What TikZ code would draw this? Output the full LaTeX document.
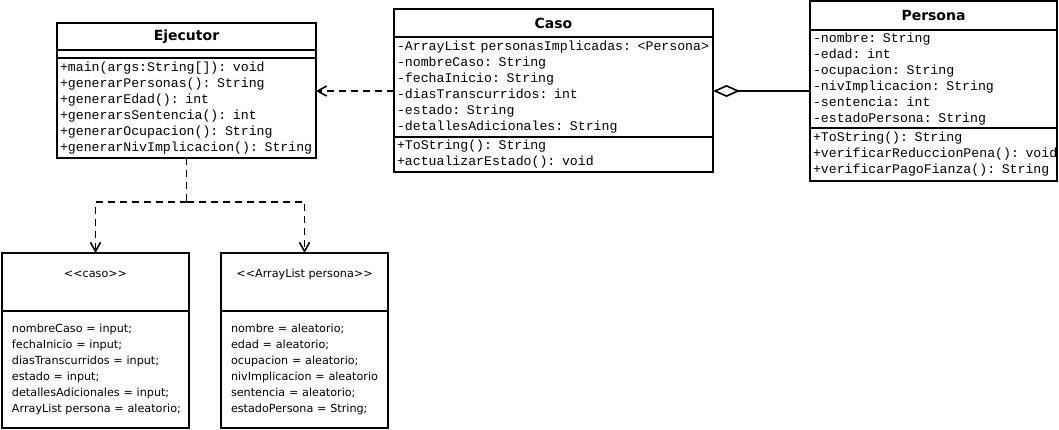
\documentclass[tikz,border=0pt]{standalone}
\usepackage{fontspec}
\setmainfont{DejaVu Sans}
\setsansfont{DejaVu Sans}
\setmonofont{Liberation Mono}
\usetikzlibrary{arrows.meta,positioning}

\begin{document}
\begin{tikzpicture}[x=1pt, y=-1pt, line width=1.6pt, node distance=0pt,
caja/.style = {draw, rectangle, outer sep=0pt, inner sep=0pt, anchor=north west},
titulo/.style = {caja, font=\sffamily\bfseries\fontsize{14}{16}\selectfont},
miembros/.style = {caja, align=left, inner xsep=3pt, font=\ttfamily\fontsize{13.2}{16}\selectfont},
notas/.style = {caja, align=left, inner xsep=10pt, font=\sffamily\fontsize{11.2}{16}\selectfont},
estereo/.style = {notas, align=center, minimum height=58pt, text height=8pt, text depth=18pt},
depende/.style = {dash pattern=on 7pt off 5pt, -{Straight Barb[length=9pt,width=10pt]}},
agrega/.style = {{Diamond[open,length=27pt,width=12pt]}-}]
\useasboundingbox (0,0) rectangle (1059,429);
\node[titulo, minimum width=259pt, minimum height=27pt] (ejec) at (57,23) {Ejecutor};
\node[caja, minimum width=259pt, minimum height=8pt, below=of ejec] (ejecA) {};
\node[miembros, text width=253pt, minimum height=100pt, below=of ejecA] (ejecM) {+main(args:String[]): void\\+generarPersonas(): String\\+generarEdad(): int\\+generarsSentencia(): int\\+generarOcupacion(): String\\\mbox{+generarNivImplicacion(): String}};
\node[titulo, minimum width=319pt, minimum height=28pt] (caso) at (394,9) {Caso};
\node[miembros, text width=313pt, minimum height=100pt, below=of caso] (casoA) {\mbox{-ArrayList personasImplicadas: <Persona>}\\-nombreCaso: String\\-fechaInicio: String\\-diasTranscurridos: int\\-estado: String\\-detallesAdicionales: String};
\node[miembros, text width=313pt, minimum height=35pt, below=of casoA] (casoM) {+ToString(): String\\+actualizarEstado(): void};
\node[titulo, minimum width=247pt, minimum height=29pt] (pers) at (810,1) {Persona};
\node[miembros, text width=241pt, minimum height=98pt, below=of pers] (persA) {-nombre: String\\-edad: int\\-ocupacion: String\\-nivImplicacion: String\\-sentencia: int\\-estadoPersona: String};
\node[miembros, text width=241pt, minimum height=53pt, below=of persA] (persM) {+ToString(): String\\\mbox{+verificarReduccionPena(): void}\\\mbox{+verificarPagoFianza(): String}};
\node[estereo, text width=167pt] (stCaso) at (2,253) {<\kern0pt<caso>\kern0pt>};
\node[notas, text width=167pt, minimum height=117pt, below=of stCaso] (cuerpoCaso) {nombreCaso = input;\\fechaInicio = input;\\diasTranscurridos = input;\\estado = input;\\\mbox{detallesAdicionales = input;}\\\mbox{ArrayList persona = aleatorio;}};
\node[estereo, text width=147pt] (stLista) at (221,253) {\mbox{<\kern0pt<ArrayList persona>\kern0pt>}};
\node[notas, text width=147pt, minimum height=117pt, below=of stLista] (cuerpoLista) {nombre = aleatorio;\\edad = aleatorio;\\\mbox{ocupacion = aleatorio;}\\\mbox{nivImplicacion = aleatorio}\\\mbox{sentencia = aleatorio;}\\\mbox{estadoPersona = String;}};
\coordinate (enlace) at ([yshift=-4pt]casoA.west);
\draw[depende] (enlace) -- (enlace -| ejecM.east);
\draw[agrega] (casoA.east |- enlace) -- (enlace -| persA.west);
\draw[dash pattern=on 7pt off 5pt] (ejecM.south) -- ++(0,44) coordinate (rama);
\draw[depende] (rama) -| (stCaso.north);
\draw[depende] (rama) -| (stLista.north);
\end{tikzpicture}
\end{document}
